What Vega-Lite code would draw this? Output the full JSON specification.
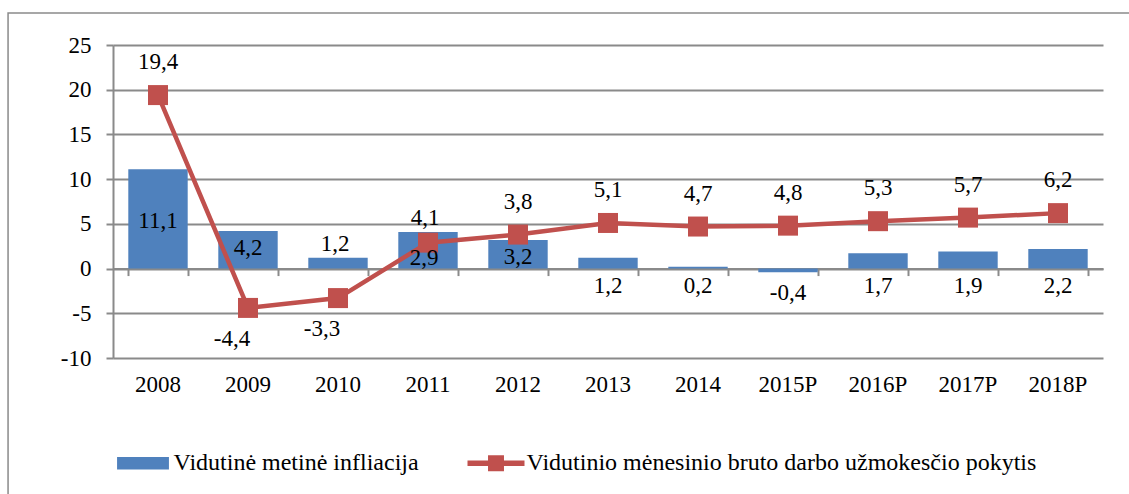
{
  "$schema": "https://vega.github.io/schema/vega-lite/v6.json",
  "width": 990,
  "height": 313,
  "autosize": {"type": "none"},
  "padding": {"left": 113, "top": 45, "right": 26, "bottom": 136},
  "config": {
    "view": {"stroke": null},
    "font": "Liberation Serif, Times New Roman, serif",
    "locale": {"number": {"decimal": ",", "thousands": " ", "grouping": [3], "currency": ["", ""], "minus": "-"}}
  },
  "layer": [
    {
      "data": {"values": [{}]},
      "mark": {"type": "rect", "fill": "transparent", "stroke": "#8a8a8a", "strokeWidth": 1.5},
      "encoding": {
        "x": {"datum": -0.106, "type": "quantitative", "scale": {"domain": [0, 1], "nice": false, "zero": false}, "axis": null},
        "x2": {"datum": 1.1},
        "y": {"datum": 28.58, "type": "quantitative",
          "scale": {"domain": [-10, 25], "nice": false, "zero": false},
          "axis": {"values": [-10, -5, 0, 5, 10, 15, 20, 25], "format": "d", "title": null, "domain": true, "domainColor": "#8a8a8a", "domainWidth": 2, "ticks": true, "tickSize": 7, "tickColor": "#8a8a8a", "tickWidth": 2, "grid": true, "gridColor": "#8a8a8a", "gridWidth": 2, "labelPadding": 15, "labelFontSize": 23, "labelFont": "Liberation Serif, Times New Roman, serif", "labelColor": "black"}},
        "y2": {"datum": -30}
      }
    },
    {
      "data": {"values": [
        {"year": "2008", "inflation": 11.1, "wage": 19.4},
        {"year": "2009", "inflation": 4.2, "wage": -4.4},
        {"year": "2010", "inflation": 1.2, "wage": -3.3},
        {"year": "2011", "inflation": 4.1, "wage": 2.9},
        {"year": "2012", "inflation": 3.2, "wage": 3.8},
        {"year": "2013", "inflation": 1.2, "wage": 5.1},
        {"year": "2014", "inflation": 0.2, "wage": 4.7},
        {"year": "2015P", "inflation": -0.4, "wage": 4.8},
        {"year": "2016P", "inflation": 1.7, "wage": 5.3},
        {"year": "2017P", "inflation": 1.9, "wage": 5.7},
        {"year": "2018P", "inflation": 2.2, "wage": 6.2}
      ]},
      "resolve": {"axis": {"x": "independent"}},
      "layer": [
        {
          "mark": {"type": "bar"},
          "encoding": {
            "x": {"field": "year", "type": "ordinal", "sort": null,
              "scale": {"paddingInner": 0.34, "paddingOuter": 0.17},
              "axis": {"orient": "bottom", "domain": false, "ticks": false, "grid": false, "labelAngle": 0, "labelPadding": 15, "labelFontSize": 23, "labelFont": "Liberation Serif, Times New Roman, serif", "labelColor": "black", "title": null}},
            "y": {"field": "inflation", "type": "quantitative",
              "axis": {"values": [-10, -5, 0, 5, 10, 15, 20, 25], "format": "d", "title": null, "domain": true, "domainColor": "#8a8a8a", "domainWidth": 2, "ticks": true, "tickSize": 7, "tickColor": "#8a8a8a", "tickWidth": 2, "grid": true, "gridColor": "#8a8a8a", "gridWidth": 2, "labelPadding": 15, "labelFontSize": 23, "labelFont": "Liberation Serif, Times New Roman, serif", "labelColor": "black"}},
            "color": {"datum": "Vidutinė metinė infliacija", "type": "nominal",
              "scale": {"domain": ["Vidutinė metinė infliacija", "Vidutinio mėnesinio bruto darbo užmokesčio pokytis"], "range": ["#4F81BD", "#C0504D"]},
              "legend": {"orient": "none", "legendX": 1.5, "legendY": 389.5, "direction": "horizontal", "title": null, "symbolSize": 3249, "symbolType": "square", "labelFontSize": 24, "labelFont": "Liberation Serif, Times New Roman, serif", "labelColor": "black", "labelLimit": 0, "labelOffset": 2, "columnPadding": 48, "padding": 0,
                "encode": {"symbols": {"update": {
                  "shape": {"signal": "datum.value === 'Vidutinė metinė infliacija' ? 'M-0.91,-0.22H0.91V0.22H-0.91Z' : 'M-1,-0.1H-0.28V-0.28H0.28V-0.1H1V0.1H0.28V0.28H-0.28V0.1H-1Z'"},
                  "fill": {"signal": "datum.value === 'Vidutinė metinė infliacija' ? '#4F81BD' : '#C0504D'"},
                  "stroke": {"value": "transparent"},
                  "strokeWidth": {"value": 0},
                  "size": {"value": 3249},
                  "opacity": {"value": 1}
                }}}}}
          }
        },
        {
          "transform": [{"filter": {"field": "year", "oneOf": ["2008"]}}],
          "mark": {"type": "text", "fontSize": 23, "font": "Liberation Serif, Times New Roman, serif", "color": "black", "baseline": "middle", "dy": 52},
          "encoding": {
            "x": {"field": "year", "type": "ordinal", "sort": null, "axis": null},
            "y": {"field": "inflation", "type": "quantitative"},
            "text": {"field": "inflation", "type": "quantitative", "format": ".1f"}
          }
        },
        {
          "transform": [{"filter": {"field": "year", "oneOf": ["2009", "2012"]}}],
          "mark": {"type": "text", "fontSize": 23, "font": "Liberation Serif, Times New Roman, serif", "color": "black", "baseline": "middle", "dy": 17},
          "encoding": {
            "x": {"field": "year", "type": "ordinal", "sort": null, "axis": null},
            "y": {"field": "inflation", "type": "quantitative"},
            "text": {"field": "inflation", "type": "quantitative", "format": ".1f"}
          }
        },
        {
          "transform": [{"filter": {"field": "year", "oneOf": ["2010", "2011"]}}],
          "mark": {"type": "text", "fontSize": 23, "font": "Liberation Serif, Times New Roman, serif", "color": "black", "baseline": "middle", "dy": -14, "dx": -3},
          "encoding": {
            "x": {"field": "year", "type": "ordinal", "sort": null, "axis": null},
            "y": {"field": "inflation", "type": "quantitative"},
            "text": {"field": "inflation", "type": "quantitative", "format": ".1f"}
          }
        },
        {
          "transform": [{"filter": {"field": "year", "oneOf": ["2013", "2014", "2016P", "2017P", "2018P"]}}],
          "mark": {"type": "text", "fontSize": 23, "font": "Liberation Serif, Times New Roman, serif", "color": "black", "baseline": "middle"},
          "encoding": {
            "x": {"field": "year", "type": "ordinal", "sort": null, "axis": null},
            "y": {"datum": -2},
            "text": {"field": "inflation", "type": "quantitative", "format": ".1f"}
          }
        },
        {
          "transform": [{"filter": {"field": "year", "oneOf": ["2015P"]}}],
          "mark": {"type": "text", "fontSize": 23, "font": "Liberation Serif, Times New Roman, serif", "color": "black", "baseline": "middle"},
          "encoding": {
            "x": {"field": "year", "type": "ordinal", "sort": null, "axis": null},
            "y": {"datum": -2.7},
            "text": {"field": "inflation", "type": "quantitative", "format": ".1f"}
          }
        },
        {
          "mark": {"type": "line", "strokeWidth": 4.5, "point": {"shape": "square", "size": 400, "filled": true, "opacity": 1}},
          "encoding": {
            "x": {"field": "year", "type": "ordinal", "sort": null,
              "axis": {"orient": "bottom", "offset": -89.43, "domain": true, "domainColor": "#8a8a8a", "domainWidth": 2, "ticks": true, "tickBand": "extent", "tickSize": 7, "tickColor": "#8a8a8a", "tickWidth": 2, "labels": false, "grid": false, "title": null}},
            "y": {"field": "wage", "type": "quantitative"},
            "color": {"datum": "Vidutinio mėnesinio bruto darbo užmokesčio pokytis", "type": "nominal"}
          }
        },
        {
          "transform": [{"filter": {"field": "year", "oneOf": ["2008", "2012", "2013", "2014", "2015P", "2016P", "2017P", "2018P"]}}],
          "mark": {"type": "text", "fontSize": 23, "font": "Liberation Serif, Times New Roman, serif", "color": "black", "baseline": "middle", "dy": -33},
          "encoding": {
            "x": {"field": "year", "type": "ordinal", "sort": null, "axis": null},
            "y": {"field": "wage", "type": "quantitative"},
            "text": {"field": "wage", "type": "quantitative", "format": ".1f"}
          }
        },
        {
          "transform": [{"filter": {"field": "year", "oneOf": ["2009", "2010"]}}],
          "mark": {"type": "text", "fontSize": 23, "font": "Liberation Serif, Times New Roman, serif", "color": "black", "baseline": "middle", "dy": 31, "dx": -16},
          "encoding": {
            "x": {"field": "year", "type": "ordinal", "sort": null, "axis": null},
            "y": {"field": "wage", "type": "quantitative"},
            "text": {"field": "wage", "type": "quantitative", "format": ".1f"}
          }
        },
        {
          "transform": [{"filter": {"field": "year", "oneOf": ["2011"]}}],
          "mark": {"type": "text", "fontSize": 23, "font": "Liberation Serif, Times New Roman, serif", "color": "black", "baseline": "middle", "dy": 15, "dx": -4},
          "encoding": {
            "x": {"field": "year", "type": "ordinal", "sort": null, "axis": null},
            "y": {"field": "wage", "type": "quantitative"},
            "text": {"field": "wage", "type": "quantitative", "format": ".1f"}
          }
        }
      ]
    }
  ],
  "resolve": {"scale": {"x": "independent"}}
}
